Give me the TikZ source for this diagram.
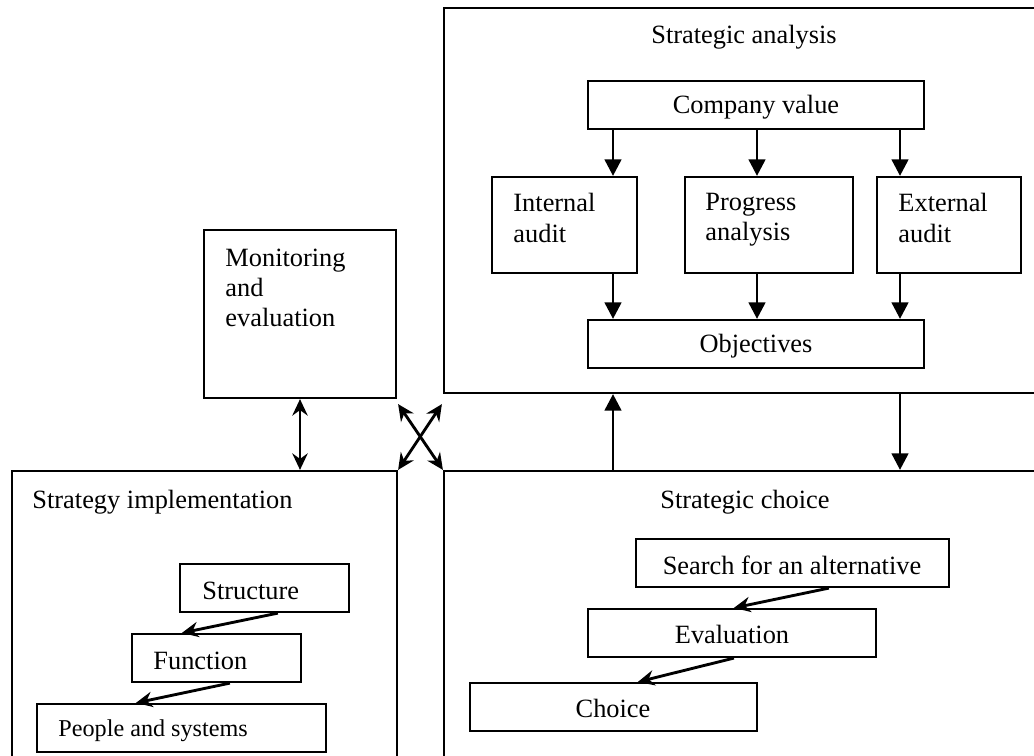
\documentclass[tikz,border=0pt]{standalone}
\usepackage{fontspec}
\setmainfont{Liberation Serif}
\usetikzlibrary{arrows.meta,calc,fit}
\tikzset{
  box/.style={draw, line width=1pt, inner sep=0pt},
  txt/.style={inner sep=0pt, align=left, font=\fontsize{12}{13.7}\selectfont},
  down/.style={line width=1.3pt, -{Triangle[length=7.5pt,width=7.5pt]}},
  flow/.style={line width=1.3pt, -{Stealth[length=7.5pt,width=7pt,inset=2.5pt]}},
  both/.style={line width=1.3pt, {Stealth[length=7.5pt,width=7pt,inset=2.5pt]}-{Stealth[length=7.5pt,width=7pt,inset=2.5pt]}},
}

\begin{document}
\begin{tikzpicture}[x=0.455pt, y=-0.455pt]
	\clip (0,0) rectangle (1034,755);

	% Arrow columns
	\coordinate (c1) at (613,0);
	\coordinate (c2) at (757,0);
	\coordinate (c3) at (900,0);

	% Strategic analysis
	\node[box, fit={(444,8) (1060,393)}] (ana) {};
	\node[txt] (anat) at (744,37) {Strategic analysis};
	\node[box, fit={(588,81) (924,129)}] (cv) {};
	\node[txt] (cvt) at (756,107) {Company value};
	\node[box, fit={(492,177) (637,273)}] (ia) {};
	\node[txt, anchor=west] (iat) at (513,218) {Internal\\audit};
	\node[box, fit={(685,177) (853,273)}] (pa) {};
	\node[txt, anchor=west] (pat) at (705,220) {Progress\\analysis};
	\node[box, fit={(877,177) (1021,273)}] (ea) {};
	\node[txt, anchor=west] (eat) at (898,218) {External\\audit};
	\node[box, fit={(588,320) (924,368)}] (obj) {};
	\node[txt] (objt) at (756,346) {Objectives};

	\draw[down] (cv.south -| c1) -- (ia.north -| c1);
	\draw[down] (cv.south -| c2) -- (pa.north -| c2);
	\draw[down] (cv.south -| c3) -- (ea.north -| c3);
	\draw[down] (ia.south -| c1) -- (obj.north -| c1);
	\draw[down] (pa.south -| c2) -- (obj.north -| c2);
	\draw[down] (ea.south -| c3) -- (obj.north -| c3);

	% Monitoring and evaluation
	\node[box, fit={(204,230) (396,398)}] (mon) {};
	\node[txt, anchor=west] (mont) at (225,288) {Monitoring\\and\\evaluation};

	% Strategy implementation
	\node[box, fit={(12,471) (397,790)}] (imp) {};
	\node[txt, anchor=west] (impt) at (32,502) {Strategy implementation};
	\node[box, fit={(180,564) (349,612)}] (str) {};
	\node[txt, anchor=west] (strt) at (202,591) {Structure};
	\node[box, fit={(132,634) (301,682)}] (fun) {};
	\node[txt, anchor=west] (funt) at (153,661) {Function};
	\node[box, fit={(37,704) (326,752)}] (ppl) {};
	\node[txt, anchor=west, font=\fontsize{11}{13}\selectfont] (pplt) at (58,731) {People and systems};

	\draw[flow] ($(str.south west)+(99,0)$) -- ($(fun.north west)+(51,0)$);
	\draw[flow] ($(fun.south west)+(99,0)$) -- ($(ppl.north west)+(100,0)$);

	% Strategic choice
	\node[box, fit={(444,471) (1060,790)}] (sc) {};
	\node[txt] (sct) at (745,502) {Strategic choice};
	\node[box, fit={(636,539) (949,587)}] (sch) {};
	\node[txt] (scht) at (792,565) {Search for an alternative};
	\node[box, fit={(588,609) (876,657)}] (evl) {};
	\node[txt] (evlt) at (732,634) {Evaluation};
	\node[box, fit={(470,683) (757,731)}] (chs) {};
	\node[txt] (chst) at (613,708) {Choice};

	\draw[flow] ($(sch.south west)+(194,0)$) -- ($(evl.north west)+(147,0)$);
	\draw[flow] ($(evl.south west)+(147,0)$) -- ($(chs.north west)+(169,0)$);

	% Links between the stages
	\draw[down] (sc.north -| c1) -- (ana.south -| c1);
	\draw[down] (ana.south -| c3) -- (sc.north -| c3);
	\draw[both] (mon.south) -- (imp.north -| mon.south);
	\draw[both] ($(mon.south east)+(1,5)$) -- (sc.north west);
	\draw[both] (imp.north east) -- ($(ana.south west)+(-1,10)$);

\end{tikzpicture}
\end{document}
